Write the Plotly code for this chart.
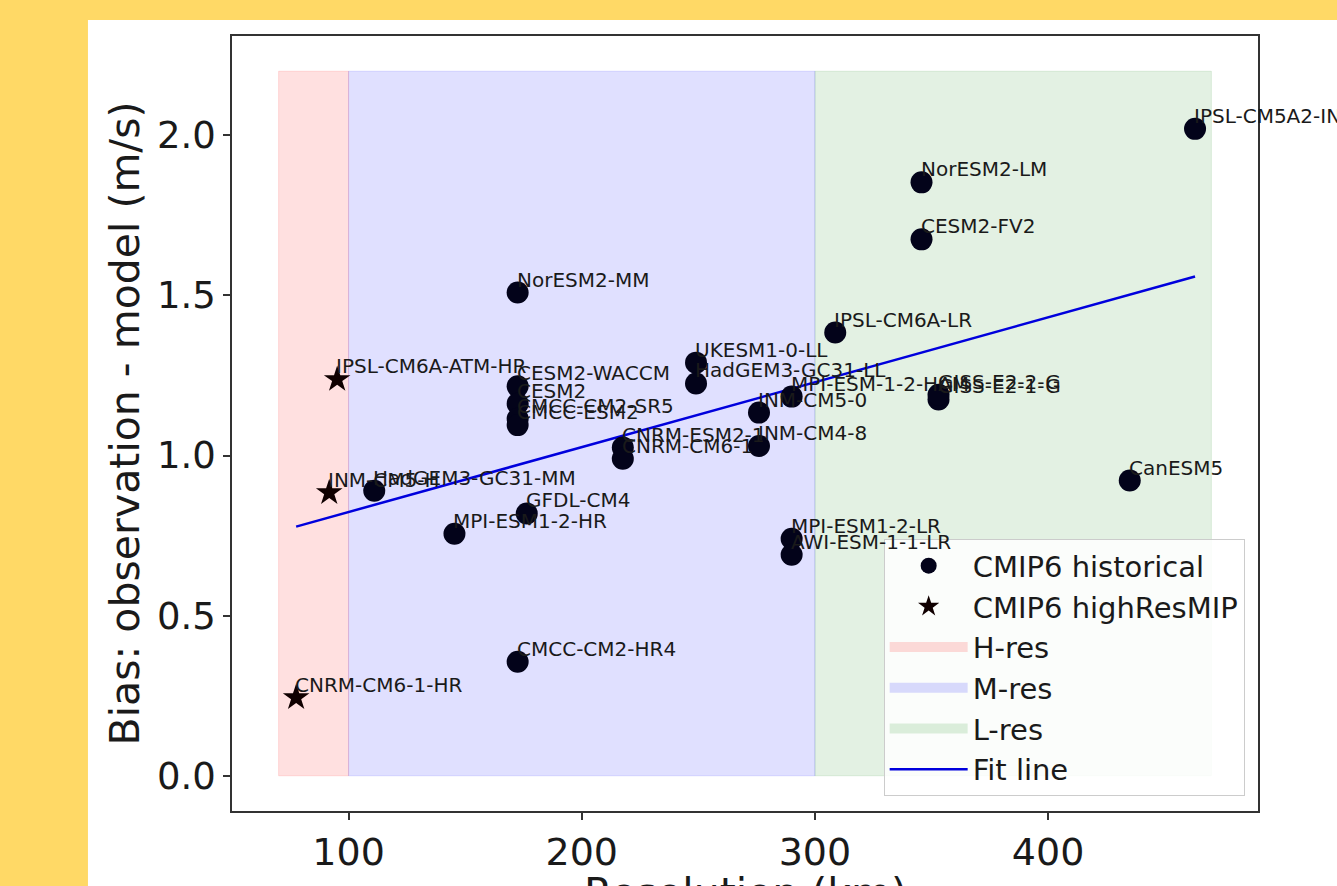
import plotly.graph_objects as go

# ---- data ----
hist_names = ["IPSL-CM5A2-INCA", "NorESM2-LM", "CESM2-FV2", "IPSL-CM6A-LR", "CanESM5",
              "GISS-E2-1-G", "GISS-E2-2-G", "MPI-ESM-1-2-HAM", "INM-CM5-0", "INM-CM4-8",
              "UKESM1-0-LL", "HadGEM3-GC31-LL", "CNRM-ESM2-1", "CNRM-CM6-1", "NorESM2-MM",
              "CESM2-WACCM", "CESM2", "CMCC-CM2-SR5", "CMCC-ESM2", "CMCC-CM2-HR4",
              "GFDL-CM4", "MPI-ESM1-2-HR", "HadGEM3-GC31-MM", "MPI-ESM1-2-LR", "AWI-ESM-1-1-LR"]
hist_res = [463, 345.7, 345.7, 308.7, 435,
            353, 353, 290, 276, 276,
            249, 249, 217.6, 217.6, 172.5,
            172.5, 172.5, 172.5, 172.5, 172.5,
            176.4, 145.4, 111, 290, 290]
hist_bias = [2.02, 1.853, 1.675, 1.384, 0.922,
             1.175, 1.19, 1.184, 1.134, 1.03,
             1.29, 1.225, 1.025, 0.99, 1.509,
             1.216, 1.162, 1.115, 1.095, 0.356,
             0.819, 0.756, 0.89, 0.74, 0.69]

hr_names = ["IPSL-CM6A-ATM-HR", "INM-CM5-H", "CNRM-CM6-1-HR"]
hr_res = [95.1, 91.7, 77.5]
hr_bias = [1.2375, 0.884, 0.244]

fit_x = [77.5, 463]
fit_y = [0.778, 1.559]

band_names = ["H-res", "M-res", "L-res"]
band_start = [70, 100, 300]
band_end = [100, 300, 470]
band_colors = ["rgba(255,0,0,0.12)", "rgba(0,0,255,0.12)", "rgba(0,128,0,0.11)"]
band_legend_colors = ["rgba(255,0,0,0.14)", "rgba(0,0,255,0.14)", "rgba(0,128,0,0.13)"]
band_top = 2.2

x_title = "Resolution (km)"
y_title = "Bias: observation - model (m/s)"

FONT = "DejaVu Sans"
TXT = "#1a1a1a"

fig = go.Figure()

# shaded resolution bands (drawn first, below the markers)
for nm, x0, x1, col in zip(band_names, band_start, band_end, band_colors):
    fig.add_trace(go.Scatter(x=[x0, x1, x1, x0, x0], y=[0, 0, band_top, band_top, 0],
                             mode="lines", fill="toself", fillcolor=col,
                             line=dict(color=col, width=1), name=nm,
                             showlegend=False, hoverinfo="skip"))

fig.add_trace(go.Scatter(x=fit_x, y=fit_y, mode="lines", name="Fit line",
                         line=dict(color="#0000dd", width=2.5), legendrank=6))
fig.add_trace(go.Scatter(x=hist_res, y=hist_bias, mode="markers", name="CMIP6 historical",
                         marker=dict(symbol="circle", size=22, color="#03031a"),
                         legendrank=1, hoverinfo="text", text=hist_names))
fig.add_trace(go.Scatter(x=hr_res, y=hr_bias, mode="markers", name="CMIP6 highResMIP",
                         marker=dict(symbol="star", size=20, color="#100000"),
                         legendrank=2, hoverinfo="text", text=hr_names))
# legend entries for the bands
for i, (nm, col) in enumerate(zip(band_names, band_legend_colors)):
    fig.add_trace(go.Scatter(x=[None], y=[None], mode="lines", name=nm,
                             line=dict(color=col, width=10),
                             legendrank=3 + i, hoverinfo="skip"))

annotations = []
for nm, x, y in zip(hist_names + hr_names, hist_res + hr_res, hist_bias + hr_bias):
    annotations.append(dict(x=x, y=y, xref="x", yref="y", text=nm, showarrow=False,
                            xanchor="left", yanchor="bottom", borderpad=0, xshift=-2,
                            font=dict(family=FONT, size=20, color=TXT)))
# axis titles (placed like the reference, where the x title runs off the bottom edge)
annotations.append(dict(x=0.5, y=-0.0804, xref="paper", yref="paper", text=x_title,
                        showarrow=False, xanchor="center", yanchor="top", borderpad=0, yshift=5,
                        font=dict(family=FONT, size=41, color=TXT)))
annotations.append(dict(x=-0.1043, y=0.5, xref="paper", yref="paper", text=y_title,
                        showarrow=False, xanchor="center", yanchor="middle", textangle=-90,
                        borderpad=0, font=dict(family=FONT, size=41, color=TXT)))

fig.update_layout(
    width=1337, height=886,
    paper_bgcolor="#FFD966", plot_bgcolor="white",
    margin=dict(l=232, r=79, t=36, b=75),
    font=dict(family=FONT, color=TXT),
    showlegend=True,
    legend=dict(x=0.987, y=0.019, xanchor="right", yanchor="bottom",
                bgcolor="rgba(255,255,255,0.85)", bordercolor="#cccccc", borderwidth=1,
                font=dict(family=FONT, size=29, color=TXT),
                itemwidth=78, tracegroupgap=4, traceorder="normal"),
    annotations=annotations,
    shapes=[dict(type="rect", xref="paper", yref="paper", x0=-0.1404, x1=1.3,
                 y0=-0.5, y1=1.0207, fillcolor="white", line=dict(width=0), layer="below")],
)

fig.update_xaxes(range=[50, 490], tickvals=[100, 200, 300, 400], ticks="outside", ticklen=7,
                 tickwidth=1.5, tickcolor="#333", showline=True, linecolor="#333", linewidth=1.5,
                 mirror=True, showgrid=False, zeroline=False, automargin=False,
                 tickfont=dict(family=FONT, size=38, color=TXT))
fig.update_yaxes(range=[-0.11, 2.31], tickvals=[0, 0.5, 1.0, 1.5, 2.0], tickformat=".1f",
                 ticks="outside", ticklen=7, tickwidth=1.5, tickcolor="#333", showline=True,
                 linecolor="#333", linewidth=1.5, mirror=True, showgrid=False, zeroline=False,
                 automargin=False,
                 tickfont=dict(family=FONT, size=37, color=TXT))

fig.write_html("out.html")
